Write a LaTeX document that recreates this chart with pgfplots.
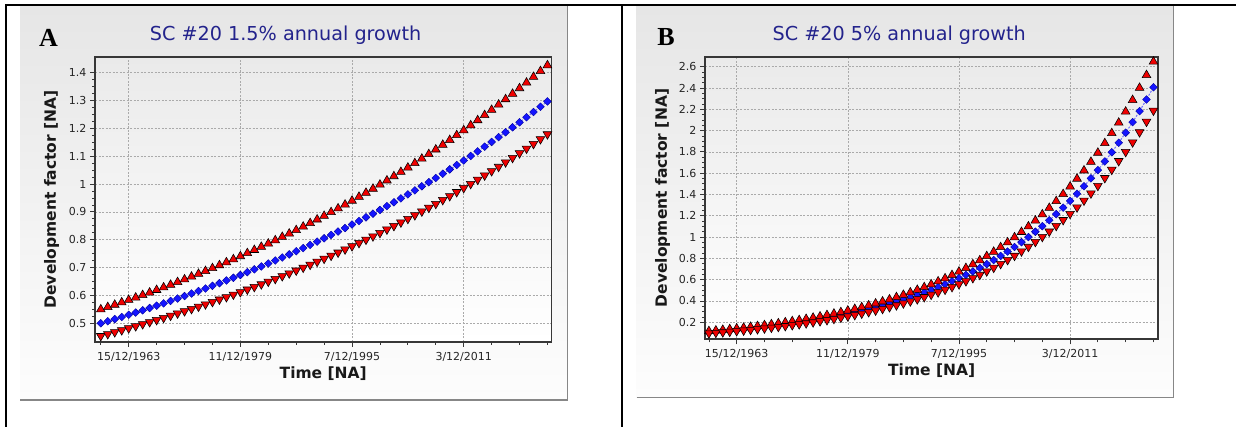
\documentclass[border=0pt]{standalone}
\usepackage{fontspec}
\setmainfont{DejaVu Sans}
\newfontfamily\lettfont{Liberation Serif}
\usepackage{pgfplots}
\usepackage{pgfplotstable}
\pgfplotsset{compat=1.18}

\definecolor{titleblue}{RGB}{35,35,140}
\definecolor{redfill}{RGB}{240,0,0}
\definecolor{bluefill}{RGB}{20,20,255}
\definecolor{blueedge}{RGB}{0,0,160}
\definecolor{blueline}{RGB}{110,110,255}
\definecolor{boxtop}{RGB}{230,230,230}
\definecolor{boxbot}{RGB}{253,253,253}
\definecolor{plottop}{RGB}{234,234,234}
\definecolor{framec}{RGB}{55,55,55}
\definecolor{gridc}{RGB}{170,170,170}
\definecolor{boxedge}{RGB}{135,135,135}

\pgfplotstableread{
x lo mid hi
1960 0.4545 0.5000 0.5500
1961 0.4614 0.5075 0.5583
1962 0.4683 0.5151 0.5666
1963 0.4753 0.5228 0.5751
1964 0.4824 0.5307 0.5838
1965 0.4897 0.5386 0.5925
1966 0.4970 0.5467 0.6014
1967 0.5045 0.5549 0.6104
1968 0.5120 0.5632 0.6196
1969 0.5197 0.5717 0.6289
1970 0.5275 0.5803 0.6383
1971 0.5354 0.5890 0.6479
1972 0.5435 0.5978 0.6576
1973 0.5516 0.6068 0.6675
1974 0.5599 0.6159 0.6775
1975 0.5683 0.6251 0.6876
1976 0.5768 0.6345 0.6979
1977 0.5855 0.6440 0.7084
1978 0.5942 0.6537 0.7190
1979 0.6032 0.6635 0.7298
1980 0.6122 0.6734 0.7408
1981 0.6214 0.6835 0.7519
1982 0.6307 0.6938 0.7632
1983 0.6402 0.7042 0.7746
1984 0.6498 0.7148 0.7862
1985 0.6595 0.7255 0.7980
1986 0.6694 0.7364 0.8100
1987 0.6795 0.7474 0.8221
1988 0.6896 0.7586 0.8345
1989 0.7000 0.7700 0.8470
1990 0.7105 0.7815 0.8597
1991 0.7211 0.7933 0.8726
1992 0.7320 0.8052 0.8857
1993 0.7429 0.8172 0.8990
1994 0.7541 0.8295 0.9124
1995 0.7654 0.8419 0.9261
1996 0.7769 0.8546 0.9400
1997 0.7885 0.8674 0.9541
1998 0.8004 0.8804 0.9684
1999 0.8124 0.8936 0.9830
2000 0.8246 0.9070 0.9977
2001 0.8369 0.9206 1.0127
2002 0.8495 0.9344 1.0279
2003 0.8622 0.9484 1.0433
2004 0.8751 0.9627 1.0589
2005 0.8883 0.9771 1.0748
2006 0.9016 0.9918 1.0909
2007 0.9151 1.0066 1.1073
2008 0.9288 1.0217 1.1239
2009 0.9428 1.0371 1.1408
2010 0.9569 1.0526 1.1579
2011 0.9713 1.0684 1.1753
2012 0.9859 1.0844 1.1929
2013 1.0006 1.1007 1.2108
2014 1.0157 1.1172 1.2289
2015 1.0309 1.1340 1.2474
2016 1.0464 1.1510 1.2661
2017 1.0620 1.1682 1.2851
2018 1.0780 1.1858 1.3043
2019 1.0941 1.2036 1.3239
2020 1.1106 1.2216 1.3438
2021 1.1272 1.2399 1.3639
2022 1.1441 1.2585 1.3844
2023 1.1613 1.2774 1.4052
2024 1.1787 1.2966 1.4262
}\dataA

\pgfplotstableread{
x lo mid hi
1960 0.0964 0.1060 0.1166
1961 0.1012 0.1113 0.1224
1962 0.1062 0.1169 0.1286
1963 0.1116 0.1227 0.1350
1964 0.1171 0.1288 0.1417
1965 0.1230 0.1353 0.1488
1966 0.1291 0.1421 0.1563
1967 0.1356 0.1492 0.1641
1968 0.1424 0.1566 0.1723
1969 0.1495 0.1644 0.1809
1970 0.1570 0.1727 0.1899
1971 0.1648 0.1813 0.1994
1972 0.1731 0.1904 0.2094
1973 0.1817 0.1999 0.2199
1974 0.1908 0.2099 0.2309
1975 0.2003 0.2204 0.2424
1976 0.2103 0.2314 0.2545
1977 0.2209 0.2430 0.2672
1978 0.2319 0.2551 0.2806
1979 0.2435 0.2679 0.2946
1980 0.2557 0.2812 0.3094
1981 0.2685 0.2953 0.3248
1982 0.2819 0.3101 0.3411
1983 0.2960 0.3256 0.3581
1984 0.3108 0.3419 0.3760
1985 0.3263 0.3590 0.3948
1986 0.3426 0.3769 0.4146
1987 0.3598 0.3957 0.4353
1988 0.3778 0.4155 0.4571
1989 0.3966 0.4363 0.4799
1990 0.4165 0.4581 0.5039
1991 0.4373 0.4810 0.5291
1992 0.4592 0.5051 0.5556
1993 0.4821 0.5303 0.5834
1994 0.5062 0.5569 0.6125
1995 0.5315 0.5847 0.6432
1996 0.5581 0.6139 0.6753
1997 0.5860 0.6446 0.7091
1998 0.6153 0.6769 0.7445
1999 0.6461 0.7107 0.7818
2000 0.6784 0.7462 0.8209
2001 0.7123 0.7836 0.8619
2002 0.7479 0.8227 0.9050
2003 0.7853 0.8639 0.9503
2004 0.8246 0.9071 0.9978
2005 0.8658 0.9524 1.0477
2006 0.9091 1.0000 1.1000
2007 0.9546 1.0500 1.1550
2008 1.0023 1.1025 1.2128
2009 1.0524 1.1577 1.2734
2010 1.1050 1.2155 1.3371
2011 1.1603 1.2763 1.4040
2012 1.2183 1.3401 1.4742
2013 1.2792 1.4071 1.5479
2014 1.3432 1.4775 1.6253
2015 1.4103 1.5514 1.7065
2016 1.4809 1.6289 1.7918
2017 1.5549 1.7104 1.8814
2018 1.6326 1.7959 1.9755
2019 1.7143 1.8857 2.0743
2020 1.8000 1.9800 2.1780
2021 1.8900 2.0790 2.2869
2022 1.9845 2.1829 2.4012
2023 2.0837 2.2921 2.5213
2024 2.1879 2.4067 2.6474
}\dataB

\pgfplotsset{
  panel/.style={
    scale only axis,
    axis line style={framec, line width=1.7pt},
    axis background/.style={shade, top color=plottop, bottom color=white},
    tick align=outside,
    xtick pos=left, ytick pos=left,
    major tick length=5pt, minor tick length=3pt,
    every tick/.style={framec, line width=0.8pt},
    xmajorgrids, ymajorgrids,
    major grid style={gridc, line width=0.6pt, dash pattern=on 2pt off 1.5pt},
    tick label style={font=\fontsize{11}{13}\selectfont, text=black!85},
    xticklabel style={yshift=-2pt},
    /pgf/number format/assume math mode=true,
    label style={font=\bfseries\fontsize{15.5}{18}\selectfont, text=black!90},
    title style={font=\fontsize{19.2}{22}\selectfont, text=titleblue, anchor=base},
    xtick={1964,1980,1996,2012},
    xticklabels={15/12/1963,11/12/1979,7/12/1995,3/12/2011},
    minor xtick={1960,1968,1972,1976,1984,1988,1992,2000,2004,2008,2016,2020,2024},
    minor y tick num=3,
    xlabel={Time [NA]},
    ylabel={Development factor [NA]},
  },
  midline/.style={blueline, line width=1pt, dash pattern=on 2pt off 1.5pt,
    mark=square*, mark size=2.75pt,
    mark options={solid, rotate=45, fill=bluefill, draw=blueedge, line width=0.4pt}},
  upmark/.style={only marks, mark=triangle*, mark size=5pt,
    mark options={fill=redfill, draw=black, line width=0.55pt}},
  downmark/.style={only marks, mark=triangle*, mark size=5pt,
    mark options={fill=redfill, draw=black, line width=0.55pt, rotate=180}},
}

\begin{document}
\begin{tikzpicture}[x=1pt,y=1pt]
\path[use as bounding box, fill=white] (0,0) rectangle (1236,427);
% panel backgrounds
\shade[top color=boxtop, bottom color=boxbot] (20,27) rectangle (567.5,421);
\draw[boxedge, line width=1.2pt] (20,27) -- (567.5,27) -- (567.5,421);
\shade[top color=boxtop, bottom color=boxbot] (636.5,29.7) rectangle (1173.3,421);
\draw[boxedge, line width=1.2pt] (636.5,29.7) -- (1173.3,29.7) -- (1173.3,421);
% table rules
\draw[black, line width=2.2pt] (6,0) -- (6,422) -- (1236,422);
\draw[black, line width=2.2pt] (621.7,0) -- (621.7,422);

\begin{axis}[panel,
  at={(95pt,85.3pt)}, anchor=south west,
  width=456.5pt, height=284.7pt,
  xmin=1959.17, xmax=2024.58, ymin=0.434, ymax=1.456,
  ytick={0.5,0.6,0.7,0.8,0.9,1,1.1,1.2,1.3,1.4},
  xlabel style={at={(axis description cs:0.5,-0.1135)}, anchor=center},
  ylabel style={at={(axis description cs:-0.0953,0.5)}, anchor=center},
  title={SC \#20 1.5\% annual growth},
  title style={at={(axis description cs:0.4175,1.036)}},
]
\addplot[midline] table[x=x, y=mid] {\dataA};
\addplot[upmark] table[x=x, y=hi] {\dataA};
\addplot[downmark] table[x=x, y=lo] {\dataA};
\end{axis}

\begin{axis}[panel,
  at={(705pt,87.7pt)}, anchor=south west,
  width=453.3pt, height=282.6pt,
  xmin=1959.44, xmax=2024.7, ymin=0.04, ymax=2.694,
  ytick={0.2,0.4,0.6,0.8,1,1.2,1.4,1.6,1.8,2,2.2,2.4,2.6},
  xlabel style={at={(axis description cs:0.5,-0.111)}, anchor=center},
  ylabel style={at={(axis description cs:-0.0938,0.5)}, anchor=center},
  title={SC \#20 5\% annual growth},
  title style={at={(axis description cs:0.4284,1.0365)}},
]
\addplot[midline] table[x=x, y=mid] {\dataB};
\addplot[upmark] table[x=x, y=hi] {\dataB};
\addplot[downmark] table[x=x, y=lo] {\dataB};
\end{axis}

\node[anchor=base, font=\lettfont\bfseries\fontsize{26}{30}\selectfont] at (48.4,380.3) {A};
\node[anchor=base, font=\lettfont\bfseries\fontsize{26}{30}\selectfont] at (666,381) {B};
\end{tikzpicture}
\end{document}
